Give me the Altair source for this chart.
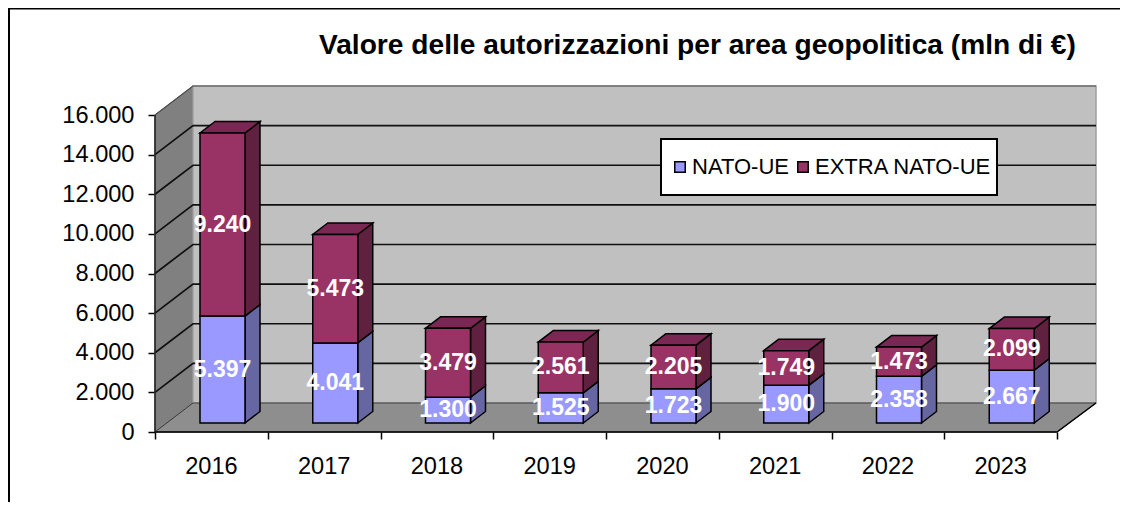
import altair as alt
import pandas as pd

YEARS = ["2016", "2017", "2018", "2019", "2020", "2021", "2022", "2023"]
NATO_UE = [5397, 4041, 1300, 1525, 1723, 1900, 2358, 2667]
EXTRA = [9240, 5473, 3479, 2561, 2205, 1749, 1473, 2099]
SERIES = ["NATO-UE", "EXTRA NATO-UE"]
TICKS = [0, 2000, 4000, 6000, 8000, 10000, 12000, 14000, 16000]

FONT = "Liberation Sans"
W, H = 941, 346
PX_X = 112.75
PX_Y = H / 17464
WALL_DX = 38 / PX_X
WALL_DY = 29 / PX_Y
XMAX = W / PX_X
BAR_OFF = 45 / PX_X
BAR_W = 45 / PX_X
BAR_BASE = 9 / PX_Y
BAR_DX = 15 / PX_X
BAR_DY = 11.5 / PX_Y
N = len(YEARS)

FRONT = {"NATO-UE": "#9999FF", "EXTRA NATO-UE": "#993366"}
SIDE = {"NATO-UE": "#6666A3", "EXTRA NATO-UE": "#60203F"}
TOP = "#7A2853"

fronts, sides, tops = [], [], []
for i in range(N):
    x0 = i + BAR_OFF
    x1 = x0 + BAR_W
    base = BAR_BASE
    for s, vals in zip(SERIES, (NATO_UE, EXTRA)):
        v = vals[i]
        end = base + v
        fronts.append(dict(x=x0, x2=x1, y=base, y2=end, xc=(x0 + x1) / 2, yc=(base + end) / 2,
                           s=s, label=f"{v:,}".replace(",", ".")))
        sides.append(dict(id=f"{i}{s}", x=x1, y=base, y2=end, c=SIDE[s]))
        sides.append(dict(id=f"{i}{s}", x=x1 + BAR_DX, y=base + BAR_DY, y2=end + BAR_DY, c=SIDE[s]))
        base = end
    tops.append(dict(id=i, y=base, x=x0, x2=x1))
    tops.append(dict(id=i, y=base + BAR_DY, x=x0 + BAR_DX, x2=x1 + BAR_DX))

grid = []
for t in TICKS[1:]:
    grid += [dict(t=t, x=0, y=t), dict(t=t, x=WALL_DX, y=t + WALL_DY), dict(t=t, x=XMAX, y=t + WALL_DY)]

x_scale = alt.Scale(domain=[0, XMAX], nice=False, zero=False)
y_scale = alt.Scale(domain=[0, 16000 + WALL_DY], nice=False, zero=False)
year_arr = "[" + ",".join(f"'{y}'" for y in YEARS) + "]"
x_axis = alt.Axis(
    values=list(range(N + 1)), domain=False, grid=False, tickColor="black", tickWidth=1.5, tickSize=7,
    labelFont=FONT, labelFontSize=23.6, labelColor="black", labelPadding=15, labelOffset=56, labelAngle=0,
    labelExpr=f"datum.value<{N} ? {year_arr}[datum.value] : ''", labelFlush=False, labelOverlap=False, labelBound=False)
y_axis = alt.Axis(
    values=TICKS, domain=False, grid=False, tickColor="black", tickWidth=1.5, tickSize=7,
    labelFont=FONT, labelFontSize=23.6, labelColor="black", labelPadding=14, labelFlush=False, labelOverlap=False,
    labelExpr="replace(format(datum.value,','),',','.')")
X = alt.X("x:Q", scale=x_scale, title=None, axis=x_axis)
Y = alt.Y("y:Q", scale=y_scale, title=None, axis=y_axis)

left_wall = alt.Chart(pd.DataFrame([
    dict(x=0, y=16000, y2=0), dict(x=WALL_DX, y=16000 + WALL_DY, y2=WALL_DY)
])).mark_area(color="#808080", stroke="#555555", strokeWidth=1).encode(x=X, y=Y, y2="y2:Q")

back_wall = alt.Chart(pd.DataFrame([dict(x=WALL_DX, x2=XMAX, y=WALL_DY, y2=16000 + WALL_DY)])).mark_rect(
    color="#C0C0C0", stroke="#A0A0A0", strokeWidth=1.5).encode(x=X, x2="x2:Q", y=Y, y2="y2:Q")

floor = alt.Chart(pd.DataFrame([
    dict(y=0, x=0, x2=N), dict(y=WALL_DY, x=WALL_DX, x2=XMAX)
])).mark_area(orient="horizontal", color="#8E8E8E", stroke="#404040", strokeWidth=1).encode(x=X, x2="x2:Q", y=Y)

grid_df = pd.DataFrame(grid)
grid_lines = alt.Chart(grid_df[grid_df.t < 16000]).mark_line(color="#101010", strokeWidth=1.7).encode(
    x=X, y=Y, detail="t:N", order=alt.Order("x:Q"))
grid_top = alt.Chart(grid_df[grid_df.t == 16000]).mark_line(color="#505050", strokeWidth=1.2).encode(
    x=X, y=Y, order=alt.Order("x:Q"))

front_edge = alt.Chart(pd.DataFrame([dict(x=0, y=0), dict(x=N, y=0), dict(x=XMAX, y=WALL_DY)])).mark_line(
    color="black", strokeWidth=1.5).encode(x=X, y=Y, order=alt.Order("x:Q"))
axis_line = alt.Chart(pd.DataFrame([dict(x=0, y=0), dict(x=0, y=16000)])).mark_line(
    color="#202020", strokeWidth=1.5).encode(x=X, y=Y)

side_layer = alt.Chart(pd.DataFrame(sides)).mark_area(stroke="black", strokeWidth=1.5).encode(
    x=X, y=Y, y2="y2:Q", detail="id:N", color=alt.Color("c:N", scale=None))
top_layer = alt.Chart(pd.DataFrame(tops)).mark_area(orient="horizontal", color=TOP, stroke="black", strokeWidth=1.5).encode(
    x=X, x2="x2:Q", y=Y, detail="id:N")
front_df = pd.DataFrame(fronts)
front_layer = alt.Chart(front_df).mark_rect(stroke="black", strokeWidth=1.5).encode(
    x=X, x2="x2:Q", y=Y, y2="y2:Q",
    color=alt.Color("s:N", scale=alt.Scale(domain=SERIES, range=[FRONT[s] for s in SERIES]), legend=alt.Legend(
        title=None, orient="none", legendX=506, legendY=53, direction="horizontal", columns=2,
        symbolType="square", symbolSize=110, symbolStrokeColor="black", symbolStrokeWidth=1.5, symbolOffset=3,
        labelFont=FONT, labelFontSize=22, labelColor="black", labelOffset=1, columnPadding=0, labelLimit=300,
        clipHeight=46, strokeColor="black", fillColor="white", padding=5)))
labels = alt.Chart(front_df).mark_text(font=FONT, fontSize=23, fontWeight="bold", color="white", baseline="middle").encode(
    x=alt.X("xc:Q", scale=x_scale, title=None, axis=x_axis),
    y=alt.Y("yc:Q", scale=y_scale, title=None, axis=y_axis), text="label:N")

frame_top = alt.Chart(pd.DataFrame({"a": [0]})).mark_rule(color="black", strokeWidth=3).encode(
    x=alt.value(-147), x2=alt.value(965), y=alt.value(-78))
frame_left = alt.Chart(pd.DataFrame({"a": [0]})).mark_rule(color="black", strokeWidth=4).encode(
    x=alt.value(-147), y=alt.value(-78), y2=alt.value(416))

chart = alt.layer(
    left_wall, back_wall, floor, grid_lines, grid_top, front_edge, axis_line,
    side_layer, top_layer, front_layer, labels, frame_top, frame_left,
).properties(
    width=W, height=H,
    background="white",
    autosize=alt.AutoSizeParams(type="none"),
    padding={"left": 147, "top": 78, "right": 24, "bottom": 70},
    title=alt.TitleParams(
        "Valore delle autorizzazioni per area geopolitica (mln di €)",
        font=FONT, fontSize=28.15, fontWeight="bold", color="black", anchor="start", frame="group",
        dx=164, offset=0, dy=54),
).configure_view(stroke=None).configure_legend(strokeWidth=2)

chart.save("out.html", embed_options={"renderer": "svg", "actions": False})
